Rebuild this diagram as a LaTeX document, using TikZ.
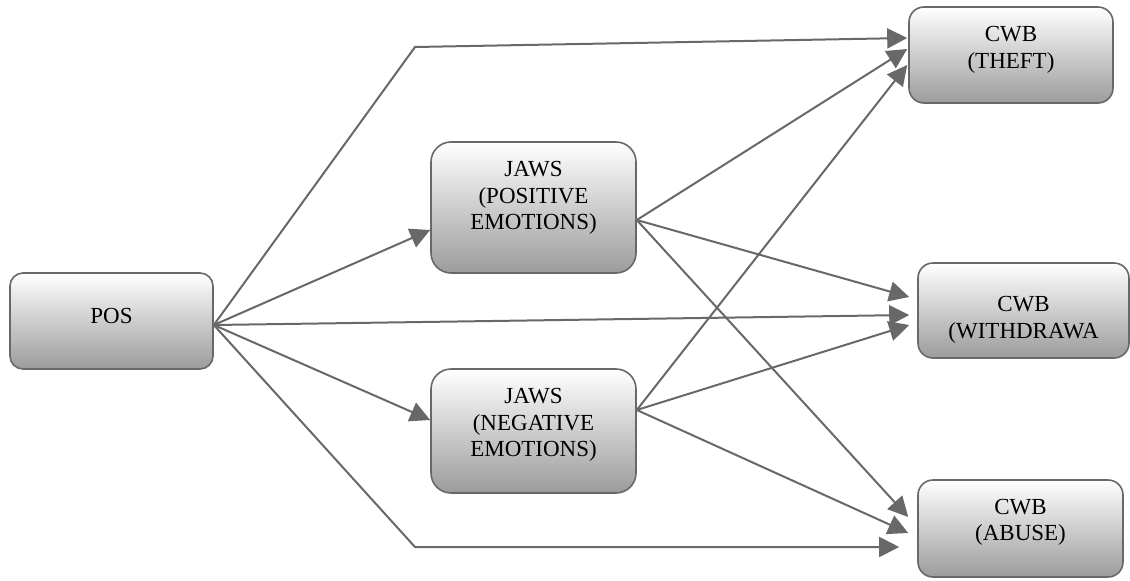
\documentclass[tikz,border=0pt]{standalone}
\usepackage{fontspec}
\setmainfont{Liberation Serif}
\usetikzlibrary{arrows.meta,calc}
\definecolor{edgegray}{RGB}{104,104,104}
\begin{document}
\begin{tikzpicture}[x=1pt,y=-1pt,
  box/.style={draw=edgegray, line width=1.6pt, top color=white, bottom color=gray!78, inner sep=0pt, rectangle},
  lbl/.style={inner sep=0pt, align=center, font=\fontsize{23}{26.5}\selectfont},
  conn/.style={draw=edgegray, line width=2pt, -{Triangle[length=20pt,width=20pt]}},
]
\useasboundingbox (0,0) rectangle (1130,581);

% boxes
\node[box, rounded corners=13pt, minimum width=203pt, minimum height=96pt] (pos) at (111.5,321) {};
\node[box, rounded corners=20pt, minimum width=205pt, minimum height=131pt] (jp) at (533.5,207.5) {};
\node[box, rounded corners=20pt, minimum width=205pt, minimum height=124pt] (jn) at (533.5,431) {};
\node[box, rounded corners=15pt, minimum width=204pt, minimum height=96pt] (th) at (1011,55) {};
\node[box, rounded corners=15pt, minimum width=211pt, minimum height=95pt] (wd) at (1023.5,310.5) {};
\node[box, rounded corners=15pt, minimum width=205pt, minimum height=97pt] (ab) at (1020.5,528.5) {};

% texts
\node[lbl] (posT) at (111.5,316) {POS};
\node[lbl] (jpT) at (533.5,198) {JAWS\\(POSITIVE\\EMOTIONS)};
\node[lbl] (jnT) at (533.5,425) {JAWS\\(NEGATIVE\\EMOTIONS)};
\node[lbl] (thT) at (1011,50) {CWB\\(THEFT)};
\node[lbl] (wdT) at (1023.5,320) {CWB\\(WITHDRAWA};
\node[lbl] (abT) at (1020.5,522.5) {CWB\\(ABUSE)};

% origins and bends
\coordinate (posO) at ([yshift=-4pt]pos.east);
\coordinate (jpO) at ([yshift=-12.5pt]jp.east);
\coordinate (jnO) at ([yshift=21pt]jn.east);
\coordinate (bendT) at (415,47);
\coordinate (bendB) at (415,547);

% connectors from POS
\draw[conn] (posO) -- (bendT) -- ([xshift=-1pt,yshift=17pt]th.west);
\draw[conn] (posO) -- ([yshift=-22.5pt]jp.west);
\draw[conn] (posO) -- ([xshift=-8pt,yshift=-4.5pt]wd.west);
\draw[conn] (posO) -- ([yshift=11pt]jn.west);
\draw[conn] (posO) -- (bendB) -- ([xshift=-18pt,yshift=-18.5pt]ab.west);

% connectors from JAWS positive
\draw[conn] (jpO) -- ([xshift=-1pt,yshift=6pt]th.west);
\draw[conn] (jpO) -- ([xshift=-8pt,yshift=13.5pt]wd.west);
\draw[conn] (jpO) -- ([xshift=-9pt,yshift=11.5pt]ab.west);

% connectors from JAWS negative
\draw[conn] (jnO) -- ([xshift=-1pt,yshift=-10pt]th.west);
\draw[conn] (jnO) -- ([xshift=-8pt,yshift=-14.5pt]wd.west);
\draw[conn] (jnO) -- ([xshift=-9pt,yshift=-4.5pt]ab.west);
\end{tikzpicture}
\end{document}
